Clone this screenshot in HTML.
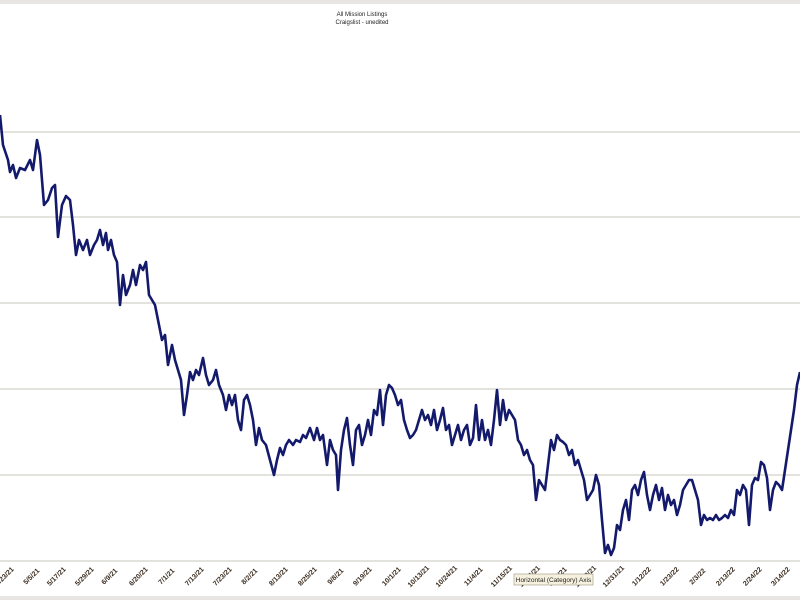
<!DOCTYPE html>
<html><head><meta charset="utf-8"><style>
body{margin:0;width:800px;height:600px;overflow:hidden;background:#fff;font-family:"Liberation Sans",sans-serif}
</style></head><body>
<svg width="800" height="600" xmlns="http://www.w3.org/2000/svg">
<rect x="0" y="0" width="800" height="4" fill="#e8e6e2"/>
<rect x="0" y="596" width="800" height="4" fill="#e8e6e2"/>
<text x="362" y="16" font-size="6" text-anchor="middle" fill="#222">All Mission Listings</text>
<text x="362" y="24" font-size="6" text-anchor="middle" fill="#222">Craigslist - unedited</text>
<g stroke="#dcd9d2" stroke-width="1.5">
<line x1="0" y1="132" x2="800" y2="132"/><line x1="0" y1="217" x2="800" y2="217"/>
<line x1="0" y1="303" x2="800" y2="303"/><line x1="0" y1="389" x2="800" y2="389"/>
<line x1="0" y1="475" x2="800" y2="475"/><line x1="0" y1="561" x2="800" y2="561"/>
</g>
<polyline fill="none" stroke="#141a6b" stroke-width="2.6" stroke-linejoin="round" points="0,115 3,145 8,160 10,172 13,165 16,178 20,168 25,170 30,160 33,170 37,140 40,155 44,205 48,200 52,188 55,185 58,237 62,205 66,196 70,200 73,225 76,255 79,240 83,250 87,240 90,255 94,245 97,240 100,230 103,245 106,233 108,250 111,240 114,255 117,262 120,305 123,275 126,295 130,285 133,270 136,285 140,265 143,270 146,262 149,295 152,300 155,305 158,320 162,340 165,335 168,365 172,345 175,360 178,370 181,380 184,415 187,395 190,372 193,380 196,370 199,375 203,358 206,375 209,385 213,380 216,370 219,385 223,395 226,410 229,395 232,405 235,395 238,420 241,430 244,400 247,395 250,405 253,420 256,445 259,428 262,440 266,445 270,460 274,475 277,460 280,448 283,455 286,445 289,440 293,445 296,440 300,442 303,435 306,438 310,428 314,440 317,428 320,440 323,435 327,465 330,440 333,450 336,455 338,490 341,450 344,430 347,418 350,445 353,465 356,430 359,425 362,445 365,435 368,420 371,435 374,410 377,415 380,390 383,425 386,395 389,385 392,388 395,395 398,405 401,400 404,420 407,430 410,438 413,435 416,430 419,420 422,410 425,420 428,415 431,425 434,410 437,430 440,420 443,408 446,430 449,425 452,445 455,435 458,425 461,440 464,430 467,425 470,445 473,438 476,405 479,440 482,420 485,440 488,430 491,445 494,420 497,390 500,425 503,400 506,420 509,410 512,415 515,420 518,440 521,445 524,455 527,450 530,460 533,465 536,500 539,480 542,485 545,490 548,465 551,440 554,450 557,435 560,440 563,442 566,445 569,455 572,450 575,465 578,460 581,470 584,480 587,500 590,495 593,490 596,475 599,485 602,520 605,553 608,545 611,555 614,548 617,525 620,530 623,510 626,500 629,520 632,490 635,485 638,495 641,480 644,472 647,495 650,510 653,495 656,485 659,500 662,488 665,510 668,495 671,505 674,500 677,515 680,505 683,490 686,485 689,480 692,480 695,490 698,500 701,525 704,515 707,520 710,518 713,520 716,515 719,520 722,518 725,515 728,518 731,510 734,515 737,490 740,495 743,485 746,490 749,525 752,485 755,478 758,480 761,462 764,465 767,478 770,510 773,490 776,482 779,485 782,490 785,470 788,450 791,430 794,410 797,385 800,372"/>
<g font-size="7" font-weight="bold" fill="#3a2c1e" text-anchor="middle">
<text transform="translate(6,578) rotate(-45)">4/23/21</text>
<text transform="translate(33,578) rotate(-45)">5/5/21</text>
<text transform="translate(58,578) rotate(-45)">5/17/21</text>
<text transform="translate(86,578) rotate(-45)">5/29/21</text>
<text transform="translate(111,578) rotate(-45)">6/9/21</text>
<text transform="translate(140,578) rotate(-45)">6/20/21</text>
<text transform="translate(168,578) rotate(-45)">7/1/21</text>
<text transform="translate(196,578) rotate(-45)">7/13/21</text>
<text transform="translate(224,578) rotate(-45)">7/23/21</text>
<text transform="translate(251,578) rotate(-45)">8/2/21</text>
<text transform="translate(280,578) rotate(-45)">8/13/21</text>
<text transform="translate(309,578) rotate(-45)">8/25/21</text>
<text transform="translate(337,578) rotate(-45)">9/8/21</text>
<text transform="translate(364,578) rotate(-45)">9/19/21</text>
<text transform="translate(393,578) rotate(-45)">10/1/21</text>
<text transform="translate(420,578) rotate(-45)">10/13/21</text>
<text transform="translate(448,578) rotate(-45)">10/24/21</text>
<text transform="translate(475,578) rotate(-45)">11/4/21</text>
<text transform="translate(503,578) rotate(-45)">11/15/21</text>
<text transform="translate(531,578) rotate(-45)">11/26/21</text>
<text transform="translate(559,578) rotate(-45)">12/7/21</text>
<text transform="translate(587,578) rotate(-45)">12/19/21</text>
<text transform="translate(615,578) rotate(-45)">12/31/21</text>
<text transform="translate(643,578) rotate(-45)">1/12/22</text>
<text transform="translate(671,578) rotate(-45)">1/23/22</text>
<text transform="translate(699,578) rotate(-45)">2/3/22</text>
<text transform="translate(727,578) rotate(-45)">2/13/22</text>
<text transform="translate(754,578) rotate(-45)">2/24/22</text>
<text transform="translate(782,578) rotate(-45)">3/14/22</text>
</g>
<rect x="514" y="574" width="79" height="11" fill="#f6f1de" stroke="#9a9584" stroke-width="0.6"/>
<text x="553.5" y="582" font-size="6.5" text-anchor="middle" fill="#222">Horizontal (Category) Axis</text>
</svg>
</body></html>
